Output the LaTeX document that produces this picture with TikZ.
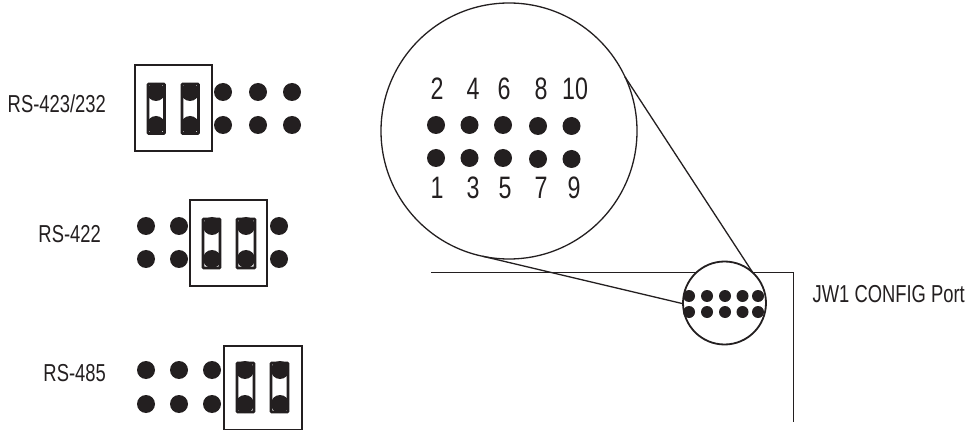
\documentclass[tikz,border=0pt]{standalone}
\usepackage{fontspec}
\setmainfont{Liberation Sans}
\newfontfamily\narrowfont[FakeStretch=0.75]{Liberation Sans}
\definecolor{ink}{HTML}{231F20}
\tikzset{
  pin/.style={circle,fill=ink,draw=none,minimum size=18pt,inner sep=0pt,outer sep=0pt},
  smallpin/.style={circle,fill=ink,draw=none,minimum size=12pt,inner sep=0pt,outer sep=0pt},
  jumper/.style={draw=ink,fill=white,line width=2.6pt,rounded corners=0.6pt},
  frame/.style={draw=ink,line width=2pt},
  lens/.style={circle,draw=ink,line width=1.3pt,inner sep=0pt,outer sep=0pt},
  smalllens/.style={circle,draw=ink,fill=white,line width=1.8pt,inner sep=0pt,outer sep=0pt},
  leader/.style={draw=ink,line width=1.3pt},
  edge line/.style={draw=ink,line width=0.9pt},
  lab/.style={font=\narrowfont\fontsize{24.5}{26}\selectfont,text=ink,inner sep=0pt},
  num/.style={font=\narrowfont\fontsize{31}{33}\selectfont,text=ink,inner sep=0pt},
}
\begin{document}
\begin{tikzpicture}[x=1pt,y=-1pt]
\useasboundingbox (0,0) rectangle (966,430);
% group 1
\draw[frame] (135,65.5) rectangle (212,151);
\draw[jumper] (148,84) rectangle (164.5,133.5);
\draw[jumper] (182,84) rectangle (198.5,133.5);
\foreach \n/\x in {a/156,b/190,c/223,d/258,e/292}{
  \node[pin] (g1t\n) at (\x,92) {};
  \node[pin] (g1b\n) at (\x,125) {};
}
% group 2
\draw[frame] (190,200.5) rectangle (267,286);
\draw[jumper] (203,219) rectangle (220,268);
\draw[jumper] (237,219) rectangle (255,268);
\foreach \n/\x in {a/146,b/179,c/212,d/246,e/279}{
  \node[pin] (g2t\n) at (\x,226) {};
  \node[pin] (g2b\n) at (\x,259) {};
}
% group 3
\draw[frame] (224,345.5) rectangle (302,430);
\draw[jumper] (237,363) rectangle (254,412);
\draw[jumper] (271,363) rectangle (288,412);
\foreach \n/\x in {a/146,b/179,c/212,d/245,e/280}{
  \node[pin] (g3t\n) at (\x,370) {};
  \node[pin] (g3b\n) at (\x,404) {};
}
% labels
\node[lab,anchor=east] (l1) at (106,104) {RS-423/232};
\node[lab,anchor=east] (l2) at (101,234) {RS-422};
\node[lab,anchor=east] (l3) at (106,373) {RS-485};
\node[lab,anchor=west] (l4) at (812.5,294) {JW1 CONFIG Port};
% board edge
\coordinate (e1) at (431,272);
\coordinate (e2) at (793,272);
\coordinate (e3) at (793,422);
\draw[edge line] (e1) -- (e2) -- (e3);
% lenses
\node[smalllens,minimum size=83pt] (small) at (724.5,303) {};
\node[lens,minimum size=256pt] (big) at (509,131) {};
\foreach \n/\x in {a/689,b/707,c/725,d/742.5,e/758}{
  \node[smallpin] (st\n) at (\x,296) {};
  \node[smallpin] (sb\n) at (\x,312) {};
}
\foreach \n/\x/\y in {a/436/125,b/469.5/125,c/503/125,d/538/126,e/571.5/126}{
  \node[pin] (bt\n) at (\x,\y) {};
}
\foreach \n/\x/\y in {a/436/158,b/469.5/158,c/503/158,d/538/159,e/571.5/159}{
  \node[pin] (bb\n) at (\x,\y) {};
}
\foreach \t/\x in {2/437,4/473,6/504,8/541,10/575}{
  \node[num] (n\t) at (\x,89) {\t};
}
\foreach \t/\x in {1/437,3/473,5/505,7/541,9/574}{
  \node[num] (n\t) at (\x,188) {\t};
}
% leaders
\draw[leader] (big.258) -- (small.181);
\draw[leader] (big.25.4) -- (small.47);
\end{tikzpicture}
\end{document}
